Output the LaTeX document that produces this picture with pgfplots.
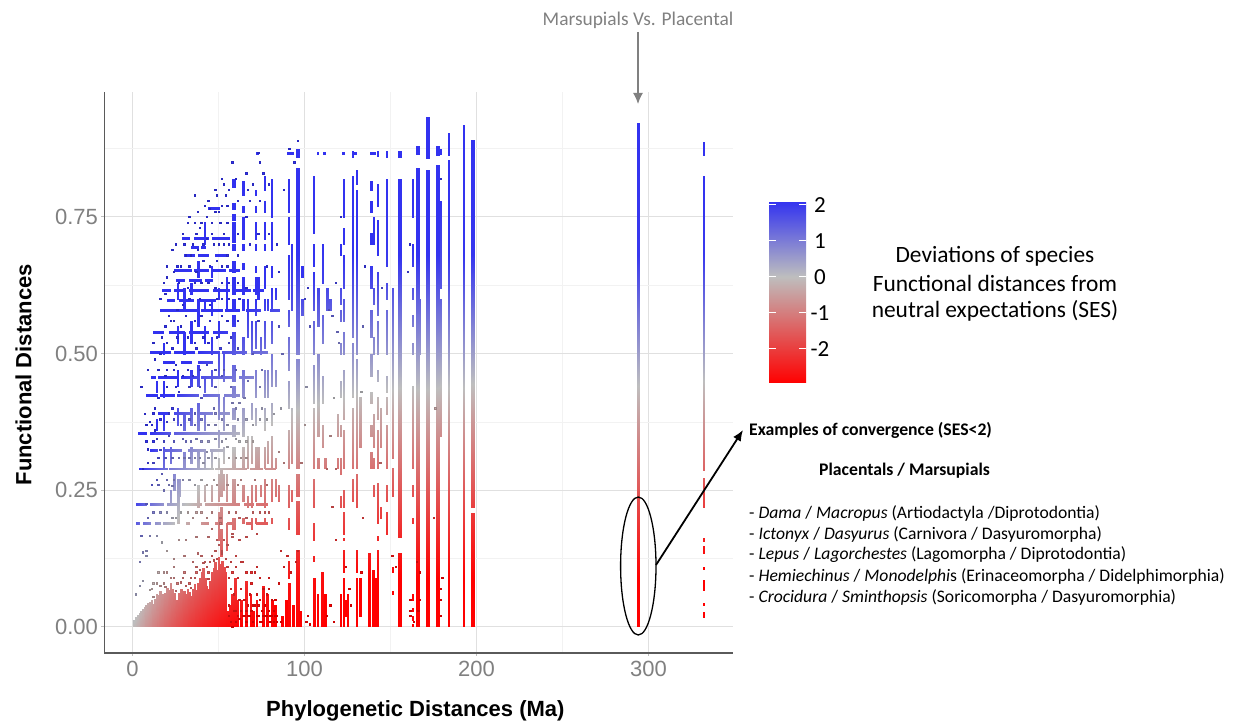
\documentclass[border=0pt]{standalone}
\usepackage{fontspec}
\usepackage{pgfplots}
\pgfplotsset{compat=1.18}
\usetikzlibrary{arrows.meta}
\setmainfont{Liberation Sans}
\newfontfamily\calf{Carlito}
\definecolor{axg}{RGB}{90,90,90}
\definecolor{tkg}{RGB}{128,128,128}
\def\D{}
\def\vbars#1#2{\foreach \x/\a/\b in {#2}{\pgfmathsetmacro\l{\x-#1/2}\pgfmathsetmacro\r{\x+#1/2}\xdef\D{\D(\l,\a)(\r,\a)(\r,\b)(\l,\b)}}}
\def\hbars#1#2{\foreach \y/\a/\b in {#2}{\pgfmathsetmacro\l{\y-#1/2}\pgfmathsetmacro\r{\y+#1/2}\xdef\D{\D(\a,\l)(\b,\l)(\b,\r)(\a,\r)}}}
% bottom cloud
\vbars{.95}{1/0/.012,2/0/.018,3/0/.022,4/0/.026,5/0/.03,6/0/.033,7/0/.036,8/0/.04,9/0/.044,10/0/.046,11/0/.05,12/0/.042,13/0/.052,14/0/.06,15/0/.058,16/0/.066,17/0/.06,18/0/.055,19/0/.062,20/0/.072,21/0/.068,22/0/.08,23/0/.07,24/0/.062,25/0/.048,26/0/.05,27/0/.062,28/0/.07,29/0/.058,30/0/.066,31/0/.06,32/0/.07,33/0/.064,34/0/.056,35/0/.07,36/0/.078,37/0/.068,38/0/.08,39/0/.09,40/0/.10,41/0/.108,42/0/.09,43/0/.075,44/0/.07,45/0/.085,46/0/.10,47/0/.108,48/0/.118,49/0/.105,50/0/.128,51/0/.115,52/0/.12,53/0/.11,54/0/.10,55.2/0/.03,56.5/0/.04,58/0/.06,59.5/0/.09,61/0/.05,63/0/.05,66/0/.085,68.5/0/.06,70/0/.03,72/0/.05,76/0/.075,78/0/.06,81/0/.05,83/0/.04}
% far columns
\vbars{1.2}{293.9/0/.09,293.9/.09/.68,293.9/.68/.922}
\vbars{.8}{332.3/.287/.68,332.3/.68/.825,332.3/.863/.888,332.3/.22/.272,332.3/.158/.163,332.3/.135/.148,332.3/.106/.11,332.3/.068/.086,332.3/.04/.043,332.3/.024/.027,332.3/.018/.021}
% solid columns
\vbars{1.3}{197.7/0/.09,197.7/.09/.208,197.7/.22/.68,197.7/.68/.89,171.5/0/.09,171.5/.09/.68,171.5/.68/.836,171.5/.858/.933,177.3/0/.09,177.3/.09/.68,177.3/.68/.845,177.3/.863/.88,165.7/0/.09,165.7/.09/.68,165.7/.68/.84,165.7/.865/.88,155.2/0/.09,155.2/.09/.135,155.2/.165/.68,155.2/.68/.82,155.2/.86/.87}
\vbars{1}{192.4/0/.09,192.4/.09/.68,192.4/.68/.918,183.7/0/.09,183.7/.09/.68,183.7/.68/.854,183.7/.863/.904}
\vbars{.6}{179/.35/.6,179/.62/.78,179/.865/.875,167/.5/.6,162.8/.75/.82,162.8/.66/.70,162.8/.60/.62,162.8/.55/.57,162.8/.5/.52,162.8/.29/.44,162.8/.24/.26,162.8/.19/.2,162.8/.05/.06,162.8/.03/.035,162.8/.012/.02,162.8/0/.006,151/.31/.62,151/.24/.29,151/.1/.11,151/.06/.065,147.7/.86/.87,147.7/.66/.82,147.7/.6/.63,147.7/.5/.58,147.7/.43/.46,147.7/.39/.42,147.7/.29/.37,147.7/.23/.26,147.7/.17/.21,144/.2/.22,144/.33/.4}
\vbars{1}{142.4/.862/.87,142.4/.77/.81,142.4/.68/.745,142.4/.57/.65,142.4/.5/.56,142.4/.45/.47,142.4/.38/.42,142.4/.29/.36,142.4/.19/.263,142.4/.16/.167,142.4/0/.09,142.4/.09/.14,137.5/0/.09,137.5/.09/.135,139.6/0/.09,139.6/.09/.105,141/0/.09}
\vbars{.7}{138.6/.8/.815,138.6/.76/.78,138.6/.7/.72,138.6/.62/.66,138.6/.53/.58,138.6/.46/.5,138.6/.41/.43,138.6/.35/.37,138.6/.29/.32,140/.7/.75,140/.59/.62,140/.5/.53,140/.33/.39,140/.29/.31,140/.24/.26}
\vbars{1.1}{130.2/.81/.836,130.2/.68/.8,130.2/.5/.68,130.2/.29/.49,130.2/.22/.28,130.2/.1/.14,130.2/0/.09,127.9/.86/.87,127.9/.68/.825,127.9/.53/.68,127.9/.42/.52,127.9/.29/.4,127.9/.23/.27,132/.02/.09,132/.33/.42}
\vbars{.7}{122.7/.75/.82,122.7/.7/.73,122.7/.62/.68,122.7/.56/.6,122.7/.5/.54,122.7/.38/.47,122.7/.29/.36,122.7/.22/.25,122.7/.17/.21,122.7/.16/.163,122.7/.1/.14,122.7/.03/.09,122.7/0/.03,120.7/.68/.7,120.7/.59/.62,120.7/.56/.58,120.7/.5/.52,120.7/.42/.45,120.7/.35/.37,120.7/.28/.31,120.7/.22/.24,120.7/.0/.06,125/0/.06,124/.02/.05,119/.29/.31,119/.35/.39}
\vbars{1}{105.2/.72/.825,105.2/.66/.7,105.2/.58/.65,105.2/.5/.56,105.2/.41/.48,105.2/.29/.4,105.2/.22/.27,105.2/.16/.19,105.2/.12/.13,105.5/0/.09,107.5/0/.06,110/0/.1,112/0/.06,108/.35/.5,108/.55/.62,108/.29/.31,110.5/.63/.7,110.5/.52/.57,110.5/.41/.46,110.5/.33/.37,113/.58/.62,115/.58/.6,112/.29/.31}
\vbars{1.2}{95.9/.86/.875,95.9/.68/.84,95.9/.5/.68,95.9/.29/.49,95.9/.24/.28,95.9/.17/.23,95.9/.09/.14,95.9/0/.09,97.2/0/.03,93.2/0/.04,90.9/0/.08,89/0/.05,87/0/.02}
\vbars{.8}{90.7/.76/.82,90.7/.7/.75,90.7/.6/.68,90.7/.55/.58,90.7/.47/.53,90.7/.4/.45,90.7/.29/.36,90.7/.22/.26,90.7/.18/.2,90.7/.09/.12,92.5/.58/.7,92.5/.3/.4,92.5/.23/.25,98.5/.64/.66,98.5/.57/.6}
% mid columns of the left cloud
\vbars{.7}{80.8/.75/.82,80.8/.69/.74,80.8/.64/.66,80.8/.58/.62,80.8/.52/.56,80.8/.44/.5,80.8/.37/.41,80.8/.29/.35,80.8/.23/.27,80.8/.19/.2,83/.6/.62,83/.44/.47,83/.24/.27,83/.29/.31,76.7/.8/.825,76.7/.76/.78,76.7/.71/.74,76.7/.69/.7,76.7/.62/.66,76.7/.58/.6,76.7/.51/.56,76.7/.42/.47,76.7/.36/.4,76.7/.29/.33,76.7/.22/.27,76.7/.19/.2,71.5/.79/.8,71.5/.76/.77,71.5/.71/.74,71.5/.69/.7,71.5/.65/.66,71.5/.61/.64,71.5/.57/.6,71.5/.51/.56,71.5/.42/.47,71.5/.37/.4,71.5/.29/.33,71.5/.23/.26,71.5/.19/.2,69/.5/.56,69/.38/.41,69/.3/.35,69/.22/.26,69/.18/.2,73/.29/.33,73/.6/.64,67/.22/.24,67/.29/.35,67/.53/.6,78.5/.3/.34,78.5/.58/.6,78.5/.42/.47,74.5/.24/.26,74.5/.5/.53,85/.23/.26}
\vbars{1.3}{58.7/.805/.82,58.7/.765/.775,58.7/.745/.755,58.7/.705/.74,58.7/.69/.7,58.7/.65/.67,58.7/.61/.64,58.7/.58/.6,58.7/.55/.57,58.7/.5/.54,58.7/.45/.48,58.7/.42/.44,58.7/.38/.4,58.7/.35/.37,58.7/.29/.33,58.7/.225/.27,58.7/.18/.2,64/.79/.815,64/.76/.77,64/.71/.75,64/.69/.7,64/.655/.665,64/.61/.64,64/.58/.6,64/.5/.53,64/.42/.47,64/.35/.4,64/.29/.33,64/.23/.26,64/.19/.2}
\vbars{.8}{50/.6/.62,50/.53/.56,50/.46/.5,50/.38/.42,50/.33/.36,50/.29/.31,50/.23/.28,50/.16/.21,51.5/.24/.29,51.5/.19/.22,51.5/.13/.18,53/.36/.42,53/.25/.28,53/.3/.33,53/.45/.5,54.5/.23/.28,54.5/.14/.19,54.5/.58/.64,46/.64/.66,46/.57/.6,46/.5/.53,46/.44/.47,46/.29/.32,46/.23/.26,42/.7/.74,42/.58/.6,42/.52/.55,42/.43/.46,42/.36/.39,42/.29/.32,42/.23/.26,38/.64/.67,38/.55/.6,38/.44/.48,38/.36/.41,38/.29/.32,38/.22/.26,34/.61/.63,34/.52/.56,34/.44/.47,34/.37/.4,34/.3/.33,30/.58/.62,30/.5/.54,30/.36/.39,30/.29/.32,26/.6/.63,26/.52/.55,26/.44/.47,26/.37/.4,26/.22/.27,26/.19/.22,27/.24/.27,26.5/.19/.25,24/.25/.28,22/.225/.25,22/.3/.33,18/.29/.33,18/.36/.39,18/.42/.45,18/.5/.52,14/.36/.38,14/.43/.45}
% rows
\hbars{.003}{.867/72/73,.867/90/93,.867/95/96,.867/107/108,.867/111/112,.867/122/123,.867/128/130,.867/138/141,.355/3/8,.355/10/22,.355/24/39,.355/40/62,.29/4/20,.29/21/47,.29/48/66,.29/68/75,.29/77/83,.225/2/8,.225/10/18,.225/20/27,.225/29/40,.225/42/62,.225/65/70,.225/72/78,.19/2/4,.19/6/10,.19/13/16,.19/18/24,.19/31/33,.19/40/44,.19/48/52,.19/55/58,.19/66/69,.19/72/78,.424/8/14,.424/16/24,.424/26/38,.424/41/50,.424/53/62,.457/11/13,.457/15/26,.457/28/38,.457/40/58,.457/62/70,.503/10/22,.503/24/36,.503/38/50,.503/52/66,.503/70/78,.58/16/38,.58/40/52,.58/54/62,.58/66/74,.58/80/85,.616/17/22,.616/24/30,.616/33/44,.616/47/56,.616/59/68,.616/70/76,.653/24/34,.653/36/44,.653/46/54,.653/56/62,.712/29/33,.712/36/44,.712/46/56,.766/44/50,.598/20/24,.598/27/35,.598/38/48,.635/25/30,.635/33/40,.635/42/46,.68/30/36,.68/38/44,.68/48/54,.695/34/38,.695/40/42,.54/12/18,.54/21/30,.54/33/44,.54/47/55,.485/18/24,.485/28/34,.485/38/46,.391/15/20,.391/24/34,.391/38/46,.391/50/56,.324/10/14,.324/18/28,.324/32/42,.324/45/52}
\begin{document}
\begin{tikzpicture}
\path (0,0) rectangle (1235pt,722pt);
\begin{axis}[
  name=main, at={(104.5pt,69pt)}, anchor=south west, scale only axis, width=628pt, height=561pt,
  xmin=-16.3, xmax=348.8, ymin=-0.0476, ymax=0.9786,
  axis x line*=bottom, axis y line*=left,
  axis line style={-, draw=axg, line width=1.2pt},
  xtick={0,100,200,300}, xticklabels={0,100,200,300},
  ytick={0,.25,.5,.75}, yticklabels={0.00,0.25,0.50,0.75},
  minor xtick={50,150,250}, minor ytick={.125,.375,.625,.875},
  grid=both, major grid style={draw=black!12, line width=1pt}, minor grid style={draw=black!5, line width=.8pt},
  major tick length=3pt, minor tick length=0pt, tick align=outside, tick style={draw=black!25, line width=1pt},
  ticklabel style={font=\fontsize{22}{26}\selectfont, text=tkg},
  xticklabel style={yshift=-2pt},
  xlabel={Phylogenetic Distances (Ma)}, ylabel={Functional Distances},
  label style={font=\fontsize{22}{26}\selectfont\bfseries},
  xlabel style={at={(axis description cs:.495,-.103)}, anchor=center},
  ylabel style={at={(axis description cs:-.129,.496)}, anchor=center},
  point meta min=-2.95, point meta max=2.1,
  colormap={rb}{rgb255(0cm)=(255,0,0); rgb255(2.95cm)=(190,190,190); rgb255(5.05cm)=(50,50,240)},
  colorbar, colorbar/width=37pt,
  colorbar style={at={(parent axis.south west)}, anchor=south west, xshift=656pt, yshift=270pt,
    height=182pt, axis line style={draw=none}, ytick pos=both,
    ytick={-2,-1,0,1,2}, yticklabels={-2,-1,0,1,2}, yticklabel pos=right,
    major tick length=7pt, tick align=inside, tick style={draw=white, line width=.8pt},
    yticklabel style={font=\calf\fontsize{23}{27}\selectfont, text=black, anchor=center, xshift=14pt},
    grid=none},
  strips/.style={patch, patch type=rectangle, shader=interp, point meta={(y-.45*(1-exp(-x/45)))/.115}},
]
\edef\tmp{\noexpand\addplot[strips] coordinates {\D};}\tmp
\addplot[scatter, only marks, point meta={(y-.45*(1-exp(-x/45)))/.115}, mark=square*, mark size=.65pt, draw=none] coordinates {
(4,.12)(8,.13)(6,.137)(17,.155)(20,.14)(30,.13)(35,.12)(38,.135)(24,.125)(10,.068)(4,.075)(2,.06)(6,.085)(27,.16)(31,.16)(37,.165)(44,.165)(46,.18)(58,.165)(66,.165)(72,.17)(5,.167)(10,.167)(14,.167)
(11,.26)(15,.26)(18,.25)(21,.26)(23,.258)(9,.325)(12,.34)(7,.39)(10,.375)(13,.4)(5,.44)(9,.47)(13,.49)(20,.47)(25,.48)(12,.52)(17,.53)(22,.56)(28,.55)(16,.6)(20,.64)(26,.66)(31,.68)(35,.7)(37,.72)(29,.72)(40,.74)(44,.78)(48,.8)(52,.82)(50,.76)(54,.79)(46,.72)(38,.76)(33,.75)(36,.79)(56,.7)(55,.66)(25,.7)(23,.69)(20,.66)(18,.63)
(58,.85)(60,.4)(62,.41)(65,.42)(67,.45)(68,.7)(66,.62)(70,.5)(74,.44)(75,.4)(78,.38)(82,.39)(85,.32)(86,.4)(88,.3)(87,.5)(85,.55)(98,.3)(100,.37)(101,.44)(103,.55)(102,.62)(100,.6)(114,.58)(116,.57)(118,.63)(117,.42)(115,.35)(113,.29)(116,.22)(118,.29)(119,.54)(118,.16)(124,.11)(126,.07)(127,.04)(113,.02)(115,.04)(117,.01)
(56,.04)(57,.07)(58,.1)(59,.06)(60,.03)(61,.09)(62,.05)(63,.07)(64,.12)(65,.05)(66,.03)(67,.02)(68,.06)(69,.08)(70,.04)(71,.1)(72,.06)(73,.02)(74,.05)(75,.03)(76,.07)(77,.04)(78,.06)(79,.09)(80,.02)(81,.05)(82,.03)(83,.05)(84,.02)(85,.08)(86,.01)(88,.11)(90,.13)(92,.1)(95,.12)(96,.14)(60,.13)(58,.17)(62,.16)(63,.12)(86,.14)(56,.09)(55,.15)(72,.11)(101,.01)(102,.02)(103,.005)
(58,0)(60,.01)(62,.015)(64,.02)(66,.01)(68,.02)(70,.01)(72,.02)(74,.01)(76,.02)(78,.02)(80,.01)(82,.01)(84,.01)(56,.02)(57,.01)(59,.03)(61,.02)(63,.03)(65,.02)(67,.04)(69,.03)(71,.04)(73,.04)(75,.01)(77,.02)(79,.03)(81,.02)(83,.02)
(161.5,.05)(161.5,.03)(161.5,.02)(163.5,.01)(151,.13)(153,.11)(165,.12)(167,.1)(179,.05)(179,.07)(180,.09)(167,.05)(166,.03)(179,.02)(175,.2)(176,.4)(179,.82)(161,.7)(160,.65)(144,.3)(145,.62)(134,.55)(134,.2)(133,.43)(133,.1)(135,.66)(120,.52)(121,.75)
(73,.867)(91,.875)(94,.85)(96,.89)(79,.81)(76,.83)(88,.8)(74,.85)(70,.81)(66,.83)(68,.78)
(12,.391)(13,.36)(21,.391)(23,.4)(36,.391)(47,.4)(48,.391)(58,.41)(16,.324)(30,.31)(31,.34)(29,.345)(43,.32)(44,.34)(55,.33)(56,.31)(15,.42)(20,.44)(25,.44)(27,.43)(33,.44)(35,.46)(39,.44)(40,.42)(48,.44)(52,.46)(57,.44)(15,.47)(19,.46)(24,.47)(29,.46)(32,.47)(39,.47)(43,.48)(48,.47)(53,.47)(60,.47)(16,.5)(23,.51)(37,.51)(44,.52)(51,.51)(56,.52)(61,.51)(20,.52)(26,.53)(32,.53)(36,.52)(41,.53)(49,.53)(57,.53)(19,.55)(24,.56)(31,.57)(36,.56)(40,.57)(45,.56)(52,.57)(55,.56)(61,.56)(21,.57)(26,.58)(29,.59)(33,.6)(39,.6)(45,.59)(49,.6)(52,.6)(56,.6)(62,.6)(19,.61)(27,.63)(32,.62)(36,.63)(40,.63)(44,.63)(48,.62)(52,.63)(56,.63)(24,.65)(28,.66)(33,.66)(37,.65)(41,.67)(45,.66)(49,.67)(52,.66)(55,.68)(30,.7)(34,.68)(38,.69)(41,.7)(43,.71)(47,.7)(50,.7)(53,.7)(32,.74)(36,.74)(39,.73)(43,.75)(46,.74)(48,.76)(51,.74)(53,.72)(55,.74)(42,.77)(45,.765)(52,.77)(55,.77)(49,.79)(56,.8)(53,.81)(60,.82)(61,.78)(61,.72)(61,.68)(61,.63)(66,.75)(67,.8)(73,.72)(74,.78)(79,.72)(78,.66)(73,.56)(75,.47)(84,.7)(85,.65)
(8,.225)(9,.2)(12,.21)(16,.21)(20,.21)(23,.2)(25,.2)(28,.21)(32,.21)(35,.2)(37,.21)(40,.21)(43,.2)(46,.21)(51,.2)(56,.21)(60,.21)(62,.2)(66,.2)(70,.21)(74,.21)(77,.21)(79,.21)
(14,.27)(17,.28)(20,.27)(24,.27)(29,.27)(33,.27)(36,.26)(40,.27)(43,.26)(47,.27)(49,.26)(55,.26)(61,.26)(63,.27)(71,.27)(78,.26)(6,.29)(9,.3)(12,.3)(15,.31)(19,.31)(23,.31)(27,.31)(33,.31)(36,.31)(39,.31)(41,.3)(44,.31)(48,.31)(60,.31)(63,.31)(66,.31)
(8,.34)(14,.345)(18,.34)(21,.35)(24,.34)(34,.34)(37,.345)(40,.34)(48,.345)(52,.34)(54,.345)(60,.345)(62,.34)(66,.34)(70,.34)(8,.37)(11,.37)(16,.38)(20,.375)(24,.38)(28,.37)(33,.38)(36,.37)(40,.38)(44,.37)(48,.37)(52,.38)(55,.37)(61,.38)(66,.38)(70,.37)(74,.38)
(8,.14)(20,.1)(24,.09)(30,.1)(34,.09)(37,.1)(44,.1)(18,.08)(14,.08)(11,.07)(26,.08)(43,.11)(46,.13)(48,.14)(50,.15)(52,.14)(53,.16)(49,.16)(51,.19)(40,.13)(42,.12)(45,.12)(37,.11)(33,.08)(29,.09)(24,.11)(18,.1)(15,.1)(12,.08)
(12,.056)(16,.075)(19,.074)(22,.09)(25,.066)(28,.082)(31,.075)(34,.072)(36,.09)(39,.105)(41,.118)(44,.088)(47,.122)(49,.125)(52,.135)(54,.125)(55,.11)(57,.12)(60,.11)(66,.1)(69,.1)(74,.09)(79,.07)
};
\end{axis}
\begin{scope}[x=1pt,y=-1pt,shift={(0,722pt)}]
\node[font=\calf\fontsize{19.4}{22}\selectfont, text=tkg] at (638,20) {Marsupials Vs. Placental};
\draw[tkg, line width=1.4pt, -{Latex[length=11pt,width=10pt]}] (638,32) -- (638,104);
\draw[black, line width=1.3pt] (638.3,566) ellipse [x radius=17.7, y radius=69];
\draw[black, line width=1.8pt, -{Latex[length=11pt,width=9pt]}] (656,565) -- (743,430);
\foreach \t/\y in {Deviations of species/256,Functional distances from/283,neutral expectations (SES)/311}
  \node[font=\calf\fontsize{23.4}{27}\selectfont] at (995,\y) {\t};
\node[font=\calf\fontsize{17.7}{20}\selectfont\bfseries, anchor=west, inner sep=0pt] at (749,430) {Examples of convergence (SES<2)};
\node[font=\calf\fontsize{17.7}{20}\selectfont\bfseries, anchor=west, inner sep=0pt] at (819,471) {Placentals / Marsupials};
\begin{scope}[every node/.style={font=\calf\fontsize{17.6}{20}\selectfont, anchor=west, inner sep=0pt}]
\node at (749,513) {- \textit{Dama} / \textit{Macropus} (Artiodactyla /Diprotodontia)};
\node at (749,534) {- \textit{Ictonyx} / \textit{Dasyurus} (Carnivora / Dasyuromorpha)};
\node at (749,555) {- \textit{Lepus} / \textit{Lagorchestes} (Lagomorpha / Diprotodontia)};
\node at (749,576) {- \textit{Hemiechinus} / \textit{Monodelphi}s (Erinaceomorpha / Didelphimorphia)};
\node at (749,597) {- \textit{Crocidura} / \textit{Sminthopsis} (Soricomorpha / Dasyuromorphia)};
\end{scope}
\end{scope}
\end{tikzpicture}
\end{document}
